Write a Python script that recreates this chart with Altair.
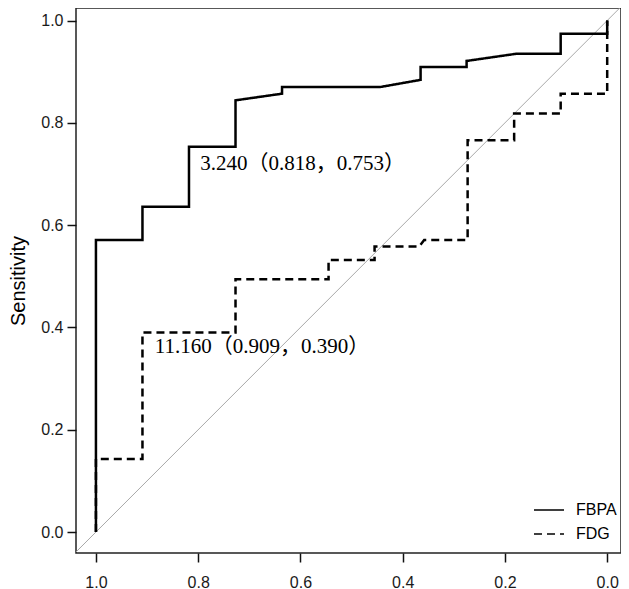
import altair as alt
import pandas as pd

# ROC curve points (Specificity shown reversed, Sensitivity)
fbpa_spec = [1.0, 1.0, 0.909, 0.909, 0.818, 0.818, 0.727, 0.727, 0.636, 0.636, 0.444, 0.365, 0.365, 0.275, 0.275, 0.178, 0.091, 0.091, 0.0, 0.0]
fbpa_sens = [0.0, 0.571, 0.571, 0.636, 0.636, 0.753, 0.753, 0.844, 0.857, 0.870, 0.870, 0.884, 0.909, 0.909, 0.921, 0.935, 0.935, 0.974, 0.974, 1.0]

fdg_spec = [1.0, 1.0, 0.909, 0.909, 0.727, 0.727, 0.545, 0.545, 0.455, 0.455, 0.368, 0.358, 0.273, 0.273, 0.182, 0.182, 0.091, 0.091, 0.0, 0.0]
fdg_sens = [0.0, 0.143, 0.143, 0.390, 0.390, 0.494, 0.494, 0.532, 0.532, 0.558, 0.558, 0.571, 0.571, 0.766, 0.766, 0.818, 0.818, 0.857, 0.857, 1.0]

series_names = ["FBPA", "FDG"]

diag_spec = [1.1, -0.1]
diag_sens = [-0.1, 1.1]

ann_labels = ["3.240（0.818，0.753）", "11.160（0.909，0.390）"]
ann_spec = [0.796, 0.885]
ann_sens = [0.720, 0.361]

tick_values = [0.0, 0.2, 0.4, 0.6, 0.8, 1.0]

rows = []
for name, xs, ys in [(series_names[0], fbpa_spec, fbpa_sens), (series_names[1], fdg_spec, fdg_sens)]:
    for i, (a, b) in enumerate(zip(xs, ys)):
        rows.append({"series": name, "spec": a, "sens": b, "order": i})
curves = pd.DataFrame(rows)
diag = pd.DataFrame({"spec": diag_spec, "sens": diag_sens})
ann = pd.DataFrame({"spec": ann_spec, "sens": ann_sens, "label": ann_labels})

xscale = alt.Scale(domain=[-0.027, 1.039], reverse=True, nice=False, zero=False)
yscale = alt.Scale(domain=[-0.041, 1.0245], nice=False, zero=False)

xaxis = alt.Axis(values=tick_values, format=".1f", title=None, labelPadding=12)
yaxis = alt.Axis(values=tick_values, format=".1f", title="Sensitivity", labelPadding=4,
                 titlePadding=12, titleFontSize=20, titleFont="Liberation Sans",
                 titleFontWeight="normal", titleColor="#000")

diag_layer = alt.Chart(diag).mark_line(clip=True, color="#a8a8a8", strokeWidth=1).encode(
    x=alt.X("spec:Q", scale=xscale, axis=xaxis),
    y=alt.Y("sens:Q", scale=yscale, axis=yaxis),
)

curve_layer = alt.Chart(curves).mark_line(clip=True, color="#000", strokeWidth=2.5).encode(
    x=alt.X("spec:Q", scale=xscale, axis=xaxis),
    y=alt.Y("sens:Q", scale=yscale, axis=yaxis),
    order="order:Q",
    strokeDash=alt.StrokeDash(
        "series:N",
        scale=alt.Scale(domain=series_names, range=[[1, 0], [8, 5]]),
        legend=alt.Legend(
            title=None, orient="none", legendX=457, legendY=486,
            symbolType="stroke", symbolSize=900, symbolStrokeWidth=1.5,
            symbolStrokeColor="#000", labelFontSize=16, labelFont="Liberation Sans",
            labelColor="#000", labelOffset=11, rowPadding=-7,
        ),
    ),
)

text_layer = alt.Chart(ann).mark_text(
    align="left", baseline="middle", fontSize=21,
    font="Liberation Serif, Noto Sans CJK SC", color="#000",
).encode(
    x=alt.X("spec:Q", scale=xscale),
    y=alt.Y("sens:Q", scale=yscale),
    text="label:N",
)

chart = alt.layer(diag_layer, curve_layer, text_layer).properties(
    width=545, height=545, padding={"left": 0, "top": 0, "right": 0, "bottom": 0}
).configure_view(
    stroke="#222", strokeWidth=1.5
).configure_axis(
    grid=False, domain=False, tickSize=9, tickColor="#111", tickWidth=1.5,
    labelFont="Liberation Sans", labelFontSize=16, labelColor="#1a1a1a",
    titleFontSize=20, titleFont="Liberation Sans", titleFontWeight="normal",
)

chart.save("out.html", embed_options={"renderer": "svg", "actions": False})
